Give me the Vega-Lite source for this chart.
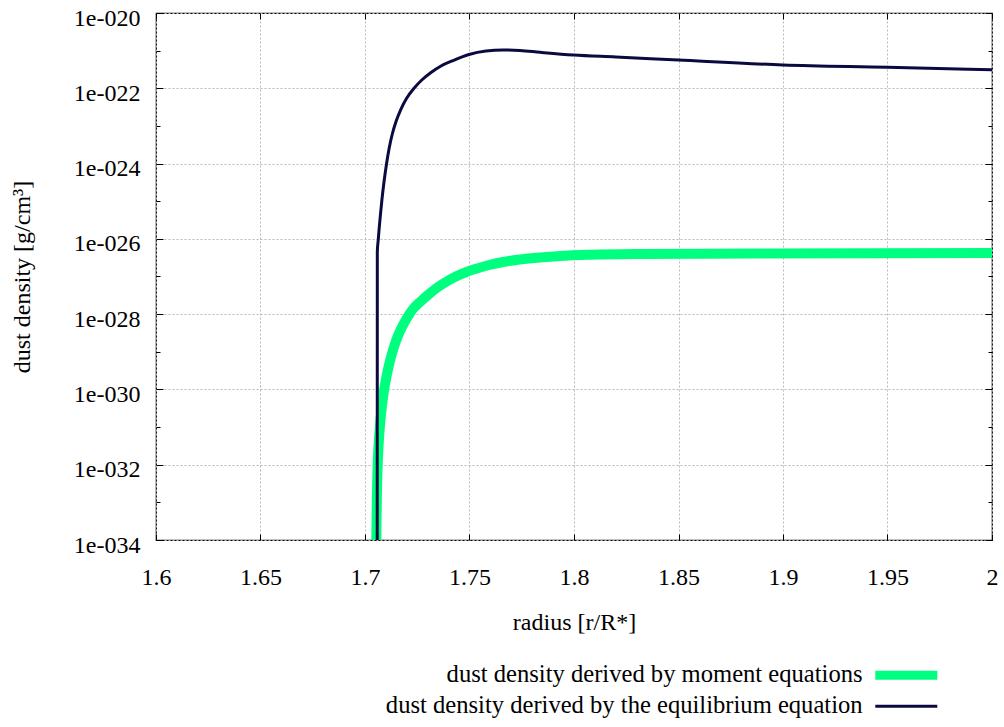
{
  "$schema": "https://vega.github.io/schema/vega-lite/v6.json",
  "width": 836,
  "height": 527,
  "autosize": "none",
  "padding": {"left": 156, "top": 13, "right": 12, "bottom": 187},
  "background": "white",
  "config": {
    "font": "Times New Roman, Liberation Serif, serif",
    "view": {"stroke": "black", "strokeWidth": 1.2},
    "axis": {
      "labelFont": "Times New Roman, Liberation Serif, serif",
      "labelFontSize": 24,
      "labelColor": "black",
      "titleFont": "Times New Roman, Liberation Serif, serif",
      "titleFontSize": 24,
      "titleFontWeight": "normal",
      "titleColor": "black",
      "domain": false,
      "tickColor": "black",
      "tickWidth": 1,
      "gridColor": "#b8b8b8",
      "gridDash": [2, 2],
      "gridWidth": 1
    }
  },
  "datasets": {
    "density": [
      {"r": 1.70541, "rho": 1e-34, "series": "dust density derived by moment equations"},
      {"r": 1.70565, "rho": 1.15e-33, "series": "dust density derived by moment equations"},
      {"r": 1.70598, "rho": 7.23e-33, "series": "dust density derived by moment equations"},
      {"r": 1.70651, "rho": 3.33e-32, "series": "dust density derived by moment equations"},
      {"r": 1.70718, "rho": 1.13e-31, "series": "dust density derived by moment equations"},
      {"r": 1.70799, "rho": 3.21e-31, "series": "dust density derived by moment equations"},
      {"r": 1.7089, "rho": 8.03e-31, "series": "dust density derived by moment equations"},
      {"r": 1.70995, "rho": 1.78e-30, "series": "dust density derived by moment equations"},
      {"r": 1.71115, "rho": 3.71e-30, "series": "dust density derived by moment equations"},
      {"r": 1.71258, "rho": 7.71e-30, "series": "dust density derived by moment equations"},
      {"r": 1.71416, "rho": 1.51e-29, "series": "dust density derived by moment equations"},
      {"r": 1.71593, "rho": 2.79e-29, "series": "dust density derived by moment equations"},
      {"r": 1.71794, "rho": 4.83e-29, "series": "dust density derived by moment equations"},
      {"r": 1.72033, "rho": 8.38e-29, "series": "dust density derived by moment equations"},
      {"r": 1.72297, "rho": 1.37e-28, "series": "dust density derived by moment equations"},
      {"r": 1.72679, "rho": 2.23e-28, "series": "dust density derived by moment equations"},
      {"r": 1.73062, "rho": 3.42e-28, "series": "dust density derived by moment equations"},
      {"r": 1.73493, "rho": 5.25e-28, "series": "dust density derived by moment equations"},
      {"r": 1.73947, "rho": 7.59e-28, "series": "dust density derived by moment equations"},
      {"r": 1.74402, "rho": 1.03e-27, "series": "dust density derived by moment equations"},
      {"r": 1.74856, "rho": 1.32e-27, "series": "dust density derived by moment equations"},
      {"r": 1.75359, "rho": 1.63e-27, "series": "dust density derived by moment equations"},
      {"r": 1.75933, "rho": 2.02e-27, "series": "dust density derived by moment equations"},
      {"r": 1.76603, "rho": 2.43e-27, "series": "dust density derived by moment equations"},
      {"r": 1.77416, "rho": 2.82e-27, "series": "dust density derived by moment equations"},
      {"r": 1.78373, "rho": 3.19e-27, "series": "dust density derived by moment equations"},
      {"r": 1.7933, "rho": 3.5e-27, "series": "dust density derived by moment equations"},
      {"r": 1.80766, "rho": 3.77e-27, "series": "dust density derived by moment equations"},
      {"r": 1.83158, "rho": 3.95e-27, "series": "dust density derived by moment equations"},
      {"r": 1.88421, "rho": 4.07e-27, "series": "dust density derived by moment equations"},
      {"r": 2.0, "rho": 4.2e-27, "series": "dust density derived by moment equations"},
      {"r": 1.70585, "rho": 1e-34, "series": "dust density derived by the equilibrium equation"},
      {"r": 1.70589, "rho": 4.47e-27, "series": "dust density derived by the equilibrium equation"},
      {"r": 1.70632, "rho": 9.31e-27, "series": "dust density derived by the equilibrium equation"},
      {"r": 1.70679, "rho": 1.94e-26, "series": "dust density derived by the equilibrium equation"},
      {"r": 1.70742, "rho": 4.57e-26, "series": "dust density derived by the equilibrium equation"},
      {"r": 1.70813, "rho": 1.14e-25, "series": "dust density derived by the equilibrium equation"},
      {"r": 1.70909, "rho": 3.24e-25, "series": "dust density derived by the equilibrium equation"},
      {"r": 1.71029, "rho": 9.73e-25, "series": "dust density derived by the equilibrium equation"},
      {"r": 1.71158, "rho": 2.59e-24, "series": "dust density derived by the equilibrium equation"},
      {"r": 1.71306, "rho": 6.1e-24, "series": "dust density derived by the equilibrium equation"},
      {"r": 1.71493, "rho": 1.35e-23, "series": "dust density derived by the equilibrium equation"},
      {"r": 1.71722, "rho": 2.81e-23, "series": "dust density derived by the equilibrium equation"},
      {"r": 1.72, "rho": 5.52e-23, "series": "dust density derived by the equilibrium equation"},
      {"r": 1.72335, "rho": 9.86e-23, "series": "dust density derived by the equilibrium equation"},
      {"r": 1.72718, "rho": 1.66e-22, "series": "dust density derived by the equilibrium equation"},
      {"r": 1.73158, "rho": 2.62e-22, "series": "dust density derived by the equilibrium equation"},
      {"r": 1.73636, "rho": 3.91e-22, "series": "dust density derived by the equilibrium equation"},
      {"r": 1.74163, "rho": 5.31e-22, "series": "dust density derived by the equilibrium equation"},
      {"r": 1.74976, "rho": 7.91e-22, "series": "dust density derived by the equilibrium equation"},
      {"r": 1.75789, "rho": 9.77e-22, "series": "dust density derived by the equilibrium equation"},
      {"r": 1.76603, "rho": 1.04e-21, "series": "dust density derived by the equilibrium equation"},
      {"r": 1.77416, "rho": 1.01e-21, "series": "dust density derived by the equilibrium equation"},
      {"r": 1.78373, "rho": 9.04e-22, "series": "dust density derived by the equilibrium equation"},
      {"r": 1.7997, "rho": 7.66e-22, "series": "dust density derived by the equilibrium equation"},
      {"r": 1.82, "rho": 6.8e-22, "series": "dust density derived by the equilibrium equation"},
      {"r": 1.85, "rho": 5.62e-22, "series": "dust density derived by the equilibrium equation"},
      {"r": 1.9, "rho": 4.17e-22, "series": "dust density derived by the equilibrium equation"},
      {"r": 1.95, "rho": 3.63e-22, "series": "dust density derived by the equilibrium equation"},
      {"r": 2.0, "rho": 3.09e-22, "series": "dust density derived by the equilibrium equation"}
    ]
  },
  "data": {"name": "density"},
  "resolve": {"axis": {"x": "independent", "y": "independent"}},
  "layer": [
    {
      "transform": [{"filter": "datum.series === 'dust density derived by moment equations'"}],
      "mark": {"type": "line", "strokeWidth": 10, "clip": true, "interpolate": "monotone"},
      "encoding": {
        "x": {
          "field": "r",
          "type": "quantitative",
          "scale": {"domain": [1.6, 2.0], "nice": false, "zero": false},
          "axis": {
            "orient": "bottom",
            "title": "radius [r/R*]",
            "values": [1.6, 1.65, 1.7, 1.75, 1.8, 1.85, 1.9, 1.95, 2.0],
            "format": "~g",
            "labelFlush": false,
            "labelOverlap": false,
            "tickSize": -6,
            "labelPadding": 31,
            "grid": true,
            "titleY": 82,
            "titleBaseline": "middle"
          }
        },
        "y": {
          "field": "rho",
          "type": "quantitative",
          "scale": {"type": "log", "domain": [1e-34, 1e-20], "nice": false},
          "axis": {
            "orient": "left",
            "title": "dust density [g/cm³]",
            "values": [1e-34, 1e-33, 1e-32, 1e-31, 1e-30, 1e-29, 1e-28, 1e-27, 1e-26, 1e-25, 1e-24, 1e-23, 1e-22, 1e-21, 1e-20],
            "labelExpr": "round(log(datum.value)/LN10) % 2 == 0 ? '1e-0' + (-round(log(datum.value)/LN10)) : ''",
            "labelOverlap": false,
            "labelFlush": false,
            "labelBaseline": "middle",
            "labelOffset": 5,
            "labelPadding": 23,
            "tickSize": {"condition": {"test": "round(log(datum.value)/LN10) % 2 == 0", "value": -7}, "value": -4},
            "grid": true,
            "gridOpacity": {"condition": {"test": "round(log(datum.value)/LN10) % 2 == 0", "value": 1}, "value": 0},
            "titleX": -134,
            "titleBaseline": "middle"
          }
        },
        "color": {
          "field": "series",
          "type": "nominal",
          "scale": {
            "domain": ["dust density derived by moment equations", "dust density derived by the equilibrium equation"],
            "range": ["#00ff7f", "#0a0a40"]
          },
          "legend": {
            "title": null,
            "orient": "none",
            "legendX": 738,
            "legendY": 650,
            "symbolType": "stroke",
            "symbolSize": 3844,
            "symbolStrokeWidth": 3,
            "labelAlign": "right",
            "labelOffset": -56,
            "labelFont": "Times New Roman, Liberation Serif, serif",
            "labelFontSize": 24.6,
            "labelColor": "black",
            "labelLimit": 0,
            "rowPadding": -3,
            "encode": {
              "symbols": {
                "update": {
                  "strokeWidth": {"signal": "datum.value === 'dust density derived by moment equations' ? 9 : 3"}
                }
              }
            }
          }
        },
        "order": {"value": null}
      }
    },
    {
      "transform": [{"filter": "datum.series === 'dust density derived by the equilibrium equation'"}],
      "mark": {"type": "line", "strokeWidth": 3, "clip": true, "interpolate": "monotone"},
      "encoding": {
        "x": {
          "field": "r",
          "type": "quantitative",
          "axis": {
            "orient": "top",
            "title": null,
            "values": [1.6, 1.65, 1.7, 1.75, 1.8, 1.85, 1.9, 1.95, 2.0],
            "labels": false,
            "tickSize": -6,
            "grid": false
          }
        },
        "y": {
          "field": "rho",
          "type": "quantitative",
          "axis": {
            "orient": "right",
            "title": null,
            "values": [1e-34, 1e-33, 1e-32, 1e-31, 1e-30, 1e-29, 1e-28, 1e-27, 1e-26, 1e-25, 1e-24, 1e-23, 1e-22, 1e-21, 1e-20],
            "labels": false,
            "tickSize": {"condition": {"test": "round(log(datum.value)/LN10) % 2 == 0", "value": -7}, "value": -4},
            "grid": false
          }
        },
        "color": {"field": "series", "type": "nominal"},
        "order": {"value": null}
      }
    }
  ]
}
